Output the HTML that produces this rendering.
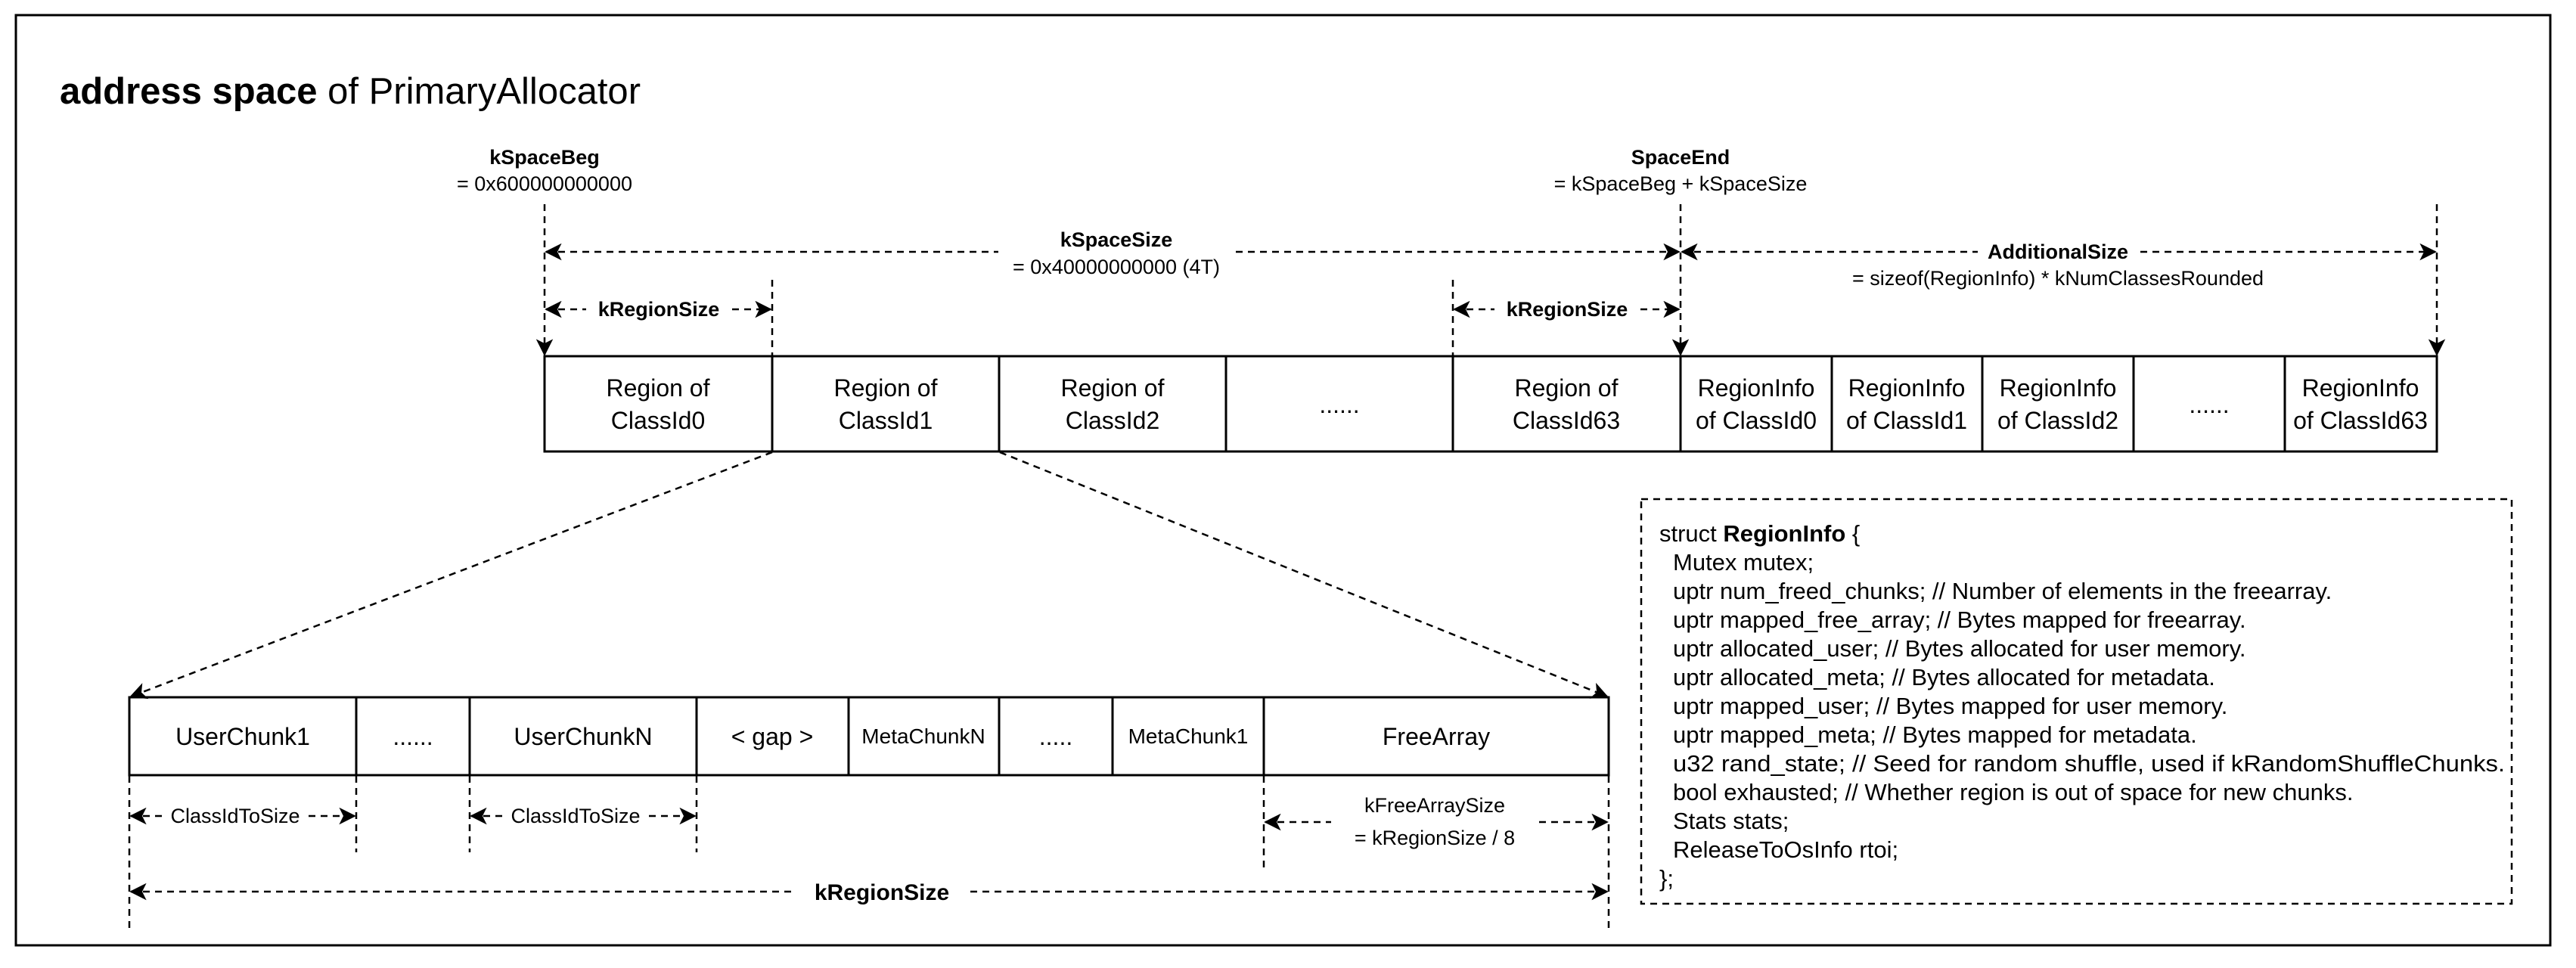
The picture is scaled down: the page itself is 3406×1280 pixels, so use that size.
<!DOCTYPE html>
<html><head><meta charset="utf-8"><style>
html,body{margin:0;padding:0;background:#fff;width:3406px;height:1280px;overflow:hidden}
svg text{font-family:"Liberation Sans",sans-serif;fill:#000}
</style></head><body>
<svg width="3406" height="1280" viewBox="0 0 3406 1280" xmlns="http://www.w3.org/2000/svg">
<defs>
<marker id="ar" viewBox="0 0 12 12" refX="11" refY="6" markerWidth="9" markerHeight="9" orient="auto-start-reverse">
<path d="M0,0 L12,6 L0,12 L3,6 Z" fill="#000"/>
</marker>
</defs>
<rect x="21" y="20" width="3351" height="1230" fill="none" stroke="#000" stroke-width="3"/>
<text x="79" y="137" font-size="49"><tspan font-weight="bold">address space</tspan> of PrimaryAllocator</text>

<g font-size="27" text-anchor="middle">
<text x="720" y="217" font-weight="bold">kSpaceBeg</text>
<text x="720" y="252">= 0x600000000000</text>
<text x="2222" y="217" font-weight="bold">SpaceEnd</text>
<text x="2222" y="252">= kSpaceBeg + kSpaceSize</text>
</g>

<g stroke="#000" stroke-width="2.5" fill="none" stroke-dasharray="9 7">
<line x1="720" y1="270" x2="720" y2="469" marker-end="url(#ar)"/>
<line x1="2222" y1="270" x2="2222" y2="469" marker-end="url(#ar)"/>
<line x1="3222" y1="270" x2="3222" y2="469" marker-end="url(#ar)"/>
<line x1="1021" y1="370" x2="1021" y2="471"/>
<line x1="1921" y1="370" x2="1921" y2="471"/>
<line x1="722" y1="333" x2="1320" y2="333" marker-start="url(#ar)"/>
<line x1="1634" y1="333" x2="2220" y2="333" marker-end="url(#ar)"/>
<line x1="2224" y1="333" x2="2615" y2="333" marker-start="url(#ar)"/>
<line x1="2830" y1="333" x2="3220" y2="333" marker-end="url(#ar)"/>
<line x1="722" y1="409" x2="775" y2="409" marker-start="url(#ar)"/>
<line x1="968" y1="409" x2="1019" y2="409" marker-end="url(#ar)"/>
<line x1="1923" y1="409" x2="1976" y2="409" marker-start="url(#ar)"/>
<line x1="2169" y1="409" x2="2220" y2="409" marker-end="url(#ar)"/>
<line x1="1021" y1="598" x2="173" y2="921" marker-end="url(#ar)"/>
<line x1="1322" y1="598" x2="2125" y2="921" marker-end="url(#ar)"/>
<line x1="171" y1="1026" x2="171" y2="1228"/>
<line x1="471" y1="1026" x2="471" y2="1127"/>
<line x1="621" y1="1026" x2="621" y2="1127"/>
<line x1="921" y1="1026" x2="921" y2="1127"/>
<line x1="1671" y1="1026" x2="1671" y2="1152"/>
<line x1="2127" y1="1026" x2="2127" y2="1228"/>
<line x1="173" y1="1079" x2="215" y2="1079" marker-start="url(#ar)"/>
<line x1="408" y1="1079" x2="469" y2="1079" marker-end="url(#ar)"/>
<line x1="623" y1="1079" x2="665" y2="1079" marker-start="url(#ar)"/>
<line x1="858" y1="1079" x2="919" y2="1079" marker-end="url(#ar)"/>
<line x1="1673" y1="1087" x2="1760" y2="1087" marker-start="url(#ar)"/>
<line x1="2035" y1="1087" x2="2125" y2="1087" marker-end="url(#ar)"/>
<line x1="173" y1="1179" x2="1050" y2="1179" marker-start="url(#ar)"/>
<line x1="1283" y1="1179" x2="2125" y2="1179" marker-end="url(#ar)"/>
<rect x="2170" y="660" width="1151" height="535"/>
</g>

<g font-size="27" text-anchor="middle">
<text x="1476" y="326" font-weight="bold">kSpaceSize</text>
<text x="1476" y="362">= 0x40000000000 (4T)</text>
<text x="2721" y="342" font-weight="bold">AdditionalSize</text>
<text x="2721" y="377">= sizeof(RegionInfo) * kNumClassesRounded</text>
<text x="871" y="418" font-weight="bold">kRegionSize</text>
<text x="2072" y="418" font-weight="bold">kRegionSize</text>
<text x="311" y="1088">ClassIdToSize</text>
<text x="761" y="1088">ClassIdToSize</text>
<text x="1897" y="1074">kFreeArraySize</text>
<text x="1897" y="1117">= kRegionSize / 8</text>
<text x="1166" y="1190" font-weight="bold" font-size="30">kRegionSize</text>
</g>

<g stroke="#000" stroke-width="3" fill="none">
<rect x="720" y="471" width="2502" height="126"/>
<path d="M1021 471V597M1321 471V597M1621 471V597M1921 471V597M2222 471V597M2422 471V597M2621 471V597M2821 471V597M3021 471V597"/>
<rect x="171" y="922" width="1956" height="103"/>
<path d="M471 922V1025M621 922V1025M921 922V1025M1122 922V1025M1321 922V1025M1471 922V1025M1671 922V1025"/>
</g>

<g font-size="32" text-anchor="middle">
<text x="870" y="524">Region of</text><text x="870" y="567">ClassId0</text>
<text x="1171" y="524">Region of</text><text x="1171" y="567">ClassId1</text>
<text x="1471" y="524">Region of</text><text x="1471" y="567">ClassId2</text>
<text x="1771" y="546">......</text>
<text x="2071" y="524">Region of</text><text x="2071" y="567">ClassId63</text>
<text x="2322" y="524">RegionInfo</text><text x="2322" y="567">of ClassId0</text>
<text x="2521" y="524">RegionInfo</text><text x="2521" y="567">of ClassId1</text>
<text x="2721" y="524">RegionInfo</text><text x="2721" y="567">of ClassId2</text>
<text x="2921" y="546">......</text>
<text x="3121" y="524">RegionInfo</text><text x="3121" y="567">of ClassId63</text>
<text x="321" y="985">UserChunk1</text>
<text x="546" y="985">......</text>
<text x="771" y="985">UserChunkN</text>
<text x="1021" y="985">&lt; gap &gt;</text>
<text x="1221" y="983" font-size="28">MetaChunkN</text>
<text x="1396" y="985">.....</text>
<text x="1571" y="983" font-size="28">MetaChunk1</text>
<text x="1899" y="985">FreeArray</text>
</g>

<g font-size="31">
<text x="2194" y="716">struct <tspan font-weight="bold">RegionInfo</tspan> {</text>
<text x="2212" y="754">Mutex mutex;</text>
<text x="2212" y="792">uptr num_freed_chunks; // Number of elements in the freearray.</text>
<text x="2212" y="830">uptr mapped_free_array; // Bytes mapped for freearray.</text>
<text x="2212" y="868">uptr allocated_user; // Bytes allocated for user memory.</text>
<text x="2212" y="906">uptr allocated_meta; // Bytes allocated for metadata.</text>
<text x="2212" y="944">uptr mapped_user; // Bytes mapped for user memory.</text>
<text x="2212" y="982">uptr mapped_meta; // Bytes mapped for metadata.</text>
<text x="2212" y="1020" textLength="1100" lengthAdjust="spacingAndGlyphs">u32 rand_state; // Seed for random shuffle, used if kRandomShuffleChunks.</text>
<text x="2212" y="1058">bool exhausted; // Whether region is out of space for new chunks.</text>
<text x="2212" y="1096">Stats stats;</text>
<text x="2212" y="1134">ReleaseToOsInfo rtoi;</text>
<text x="2194" y="1172">};</text>
</g>
</svg>
</body></html>
